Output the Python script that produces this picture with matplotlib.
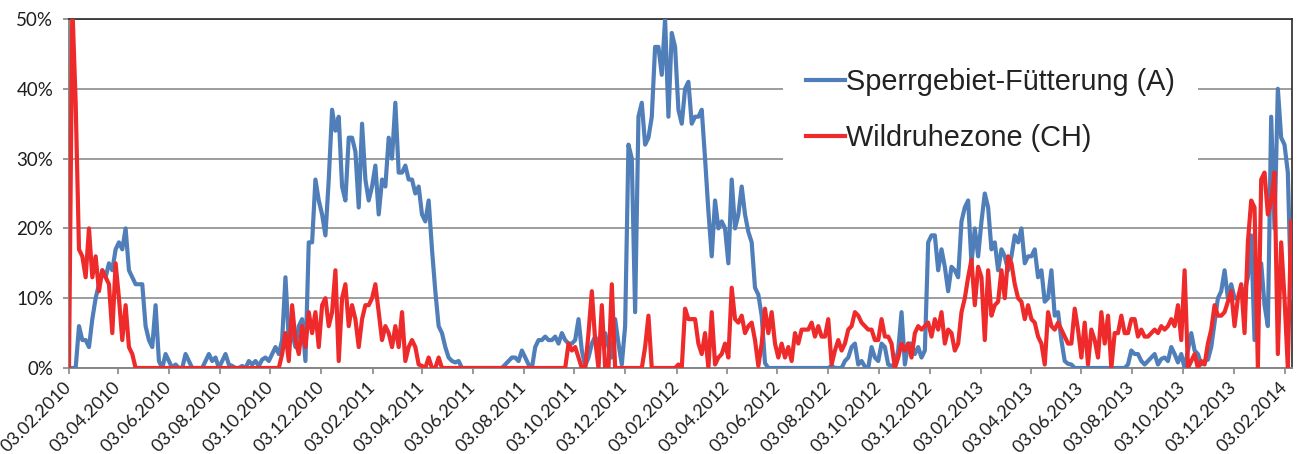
import numpy as np
import matplotlib
matplotlib.use("Agg")
import matplotlib.pyplot as plt
import matplotlib.dates as mdates
from matplotlib.ticker import FuncFormatter, MultipleLocator
from matplotlib.font_manager import FontProperties

# Readings every 4 days, starting 03.02.2010 (values in percent)
start_date = np.datetime64("2010-02-03")
end_date = np.datetime64("2014-02-11")
step_days = 4

series_labels = ["Sperrgebiet-Fütterung (A)", "Wildruhezone (CH)"]

sperrgebiet = [
    0, 0, 0, 6, 4, 4, 3, 7, 10, 12,
    14, 13, 15, 14, 17, 18, 17, 20, 14, 13,
    12, 12, 12, 6, 4, 3, 9, 1, 0, 2,
    1, 0, 0.5, 0, 0, 2, 1, 0, 0, 0,
    0, 1, 2, 1, 1.5, 0, 1, 2, 0.5, 0.3,
    0, 0, 0.3, 0, 1, 0.5, 1, 0.3, 1.2, 1.5,
    1, 2, 3, 2, 4, 13, 4, 5, 3, 6,
    7, 1, 18, 18, 27, 24, 22, 19, 27, 37,
    34, 36, 26, 24, 33, 33, 31, 23, 35, 27,
    24, 26, 29, 22, 27, 26, 33, 30, 38, 28,
    28, 29, 27, 27, 25, 26, 22, 21, 24, 17,
    11, 6, 5, 3, 1.5, 1, 0.8, 1, 0, 0,
    0, 0, 0, 0, 0, 0, 0, 0, 0, 0,
    0, 0.5, 1, 1.5, 1.5, 1, 2.5, 1.5, 0.5, 0,
    3, 4, 4, 4.5, 4, 4, 4.5, 3.5, 5, 4,
    3.5, 3.5, 4, 7, 2.5, 0.3, 1.5, 3.5, 4.5, 3.5,
    3.5, 5, 3, 1.5, 7, 3.5, 0.5, 6, 32, 30,
    8, 36, 38, 32, 33, 36, 46, 46, 42, 50,
    36, 48, 46, 37, 35, 40, 41, 35, 36, 36,
    37, 30, 22.5, 16, 24, 20, 21, 20, 15, 27,
    20, 22, 26, 22, 19.5, 18, 11.5, 10.5, 7.5, 0.7,
    0, 0, 0, 0, 0, 0, 0, 0, 0, 0,
    0, 0, 0, 0, 0, 0, 0, 0, 0, 0.3,
    0, 0, 0, 1, 1.5, 3, 3.5, 0.5, 1, 0.2,
    0, 3, 1.5, 1, 3.5, 3, 0.5, 0.3, 0.5, 2.5,
    8, 0.5, 3.5, 3.5, 2, 3, 1.5, 2.5, 18, 19,
    19, 14, 17, 14.5, 11, 14.5, 14, 13, 21, 23,
    24, 15, 20, 16, 21, 25, 23, 17, 18, 14,
    17, 16, 14, 16, 19, 18, 20, 15, 16, 16,
    17, 13, 14, 9.5, 10, 14, 7.5, 8, 4, 1,
    0.6, 0.5, 0, 0, 0, 0, 0, 0, 0, 0,
    0, 0, 0, 0, 0, 0, 0, 0, 0.5, 2.5,
    2, 2, 1, 0.5, 1, 1.5, 2, 0.5, 1.3, 1.5,
    1, 3, 2, 0.8, 2, 0, 2.5, 5, 2.5, 2,
    0.5, 1, 1.2, 3, 6.5, 10, 11, 14, 10, 12,
    10, 10, 11, 11, 13, 19, 4, 9, 15, 9,
    6, 36, 20, 40, 33, 32, 28, 10,
]

wildruhezone = [
    0, 52, 38, 17, 16, 13, 20, 13, 16, 11,
    14, 13, 12, 5, 15, 10, 4, 9, 3, 2,
    0, 0, 0, 0, 0, 0, 0, 0, 0, 0,
    0, 0, 0, 0, 0, 0, 0, 0, 0, 0,
    0, 0, 0, 0, 0, 0, 0, 0, 0, 0,
    0, 0, 0, 0, 0, 0, 0, 0, 0, 0,
    0, 0, 0, 0, 2, 5, 1, 9, 4, 2,
    6, 3, 8, 5, 8, 3, 9, 10, 6, 8,
    14, 1, 10, 12, 6, 9, 7, 3, 7, 9,
    9, 10, 12, 8, 4, 6, 5, 3, 6, 3,
    8, 1, 3, 4, 3, 0.5, 0.3, 0, 1.5, 0,
    0, 1.5, 0, 0, 0, 0, 0, 0, 0, 0,
    0, 0, 0, 0, 0, 0, 0, 0, 0, 0,
    0, 0, 0, 0, 0, 0, 0, 0, 0, 0,
    0, 0, 0, 0, 0, 0, 0, 0, 0, 0,
    3.5, 2.5, 3, 1.5, 0, 0, 5, 11, 4, 0,
    9, 0, 0, 12, 0, 0, 0, 0, 0, 0,
    0, 0, 0, 3, 7.5, 0, 0, 0, 0, 0,
    0, 0, 0, 0.5, 0, 8.5, 7, 7, 7, 3.5,
    2, 5, 0, 8, 0.5, 1.5, 2, 3.5, 1.5, 11.5,
    7, 6.5, 7.5, 5, 6, 6.5, 4, 0.3, 3.5, 8.5,
    5, 8, 3.5, 1.5, 3.5, 1.5, 3, 1, 5, 3.5,
    5.5, 5.5, 5.5, 6.5, 4.5, 6, 4.5, 4.5, 7, 0.5,
    2.5, 4, 2.5, 3.5, 5.5, 6, 8, 7.5, 6.5, 6,
    5.5, 5.5, 4, 4, 7, 4.5, 4.5, 3.5, 0, 1.5,
    3.5, 2.5, 3.5, 1.5, 5, 6, 5.5, 6, 6.5, 4.5,
    7, 5.5, 8, 3.5, 5.5, 5, 2.5, 3.5, 8, 10,
    13, 15.5, 9, 14.5, 13, 4, 14, 7.5, 9, 9.5,
    14, 10, 16, 15, 12, 10, 9.5, 7, 9, 7,
    6.5, 4.5, 3.5, 0.5, 8, 6, 5.5, 6.5, 5.5, 4.5,
    3.5, 3.5, 8.5, 5.5, 1.5, 6.5, 0.5, 5.5, 4, 1.5,
    8, 3.5, 7.5, 0, 5, 5, 7.5, 5, 5, 7,
    7, 4.5, 5.5, 4.5, 4.5, 5, 5.5, 5, 6, 5.5,
    6, 7, 6, 9, 4, 14, 0, 1, 2, 0,
    1, 0.5, 3.5, 5.5, 9, 7.5, 7.5, 8, 9.5, 11,
    6, 10, 12, 5, 18, 24, 23, 0, 27, 28,
    22, 24, 28, 2, 18, 10, 0, 21,
]

blue = "#4F7EB9"
red = "#EE2A2A"

W, H = 1298, 454
fig = plt.figure(figsize=(W / 100, H / 100), dpi=100)
left, right, top, bottom = 69, 1292, 19, 368
ax = fig.add_axes([left / W, 1 - bottom / H, (right - left) / W, (bottom - top) / H])

dates_a = start_date + np.arange(len(sperrgebiet)) * step_days
dates_b = start_date + np.arange(len(wildruhezone)) * step_days

ax.plot(dates_a, sperrgebiet, color=blue, lw=3.0, solid_joinstyle="round",
        label=series_labels[0], zorder=3)
ax.plot(dates_b, wildruhezone, color=red, lw=3.0, solid_joinstyle="round",
        label=series_labels[1], zorder=4)

ax.set_xlim(start_date, end_date)
ax.set_ylim(0, 50)

# y axis: percent scale with horizontal gridlines
ax.yaxis.set_major_locator(MultipleLocator(10))
ax.yaxis.set_major_formatter(FuncFormatter(lambda v, p: f"{v:.0f}%"))
ax.grid(axis="y", color="#959595", lw=1.3, zorder=1)
ax.set_axisbelow(True)

# x axis: every second month on the 3rd
ax.xaxis.set_major_locator(mdates.MonthLocator(bymonth=(2, 4, 6, 8, 10, 12), bymonthday=3))
ax.xaxis.set_major_formatter(mdates.DateFormatter("%d.%m.%Y"))

tick_font = "Lato"
ax.tick_params(axis="both", direction="out", length=4.3, width=1.2, color="#868686",
               labelsize=13, labelcolor="#1e1e1e")
ax.tick_params(axis="y", pad=7, labelsize=13.5)
ax.tick_params(axis="x", pad=8)
for lab in ax.get_yticklabels():
    lab.set_fontfamily(tick_font)
for lab in ax.get_xticklabels():
    lab.set_fontfamily(tick_font)
    lab.set_rotation(45)
    lab.set_ha("right")
    lab.set_va("center")
    lab.set_rotation_mode("anchor")

for side in ("left", "bottom"):
    ax.spines[side].set_color("#868686")
    ax.spines[side].set_linewidth(1.4)
for side in ("top", "right"):
    ax.spines[side].set_color("#2a2a2a")
    ax.spines[side].set_linewidth(1.2)

leg = ax.legend(loc="center", bbox_to_anchor=(0.7535, 0.739),
                prop=FontProperties(family="Liberation Sans", size=20.8),
                handlelength=1.35, handletextpad=0.05, labelspacing=0.95,
                borderpad=0.8, frameon=True, fancybox=False, framealpha=1,
                facecolor="white", edgecolor="none")
for t in leg.get_texts():
    t.set_color("#222222")
leg.set_zorder(5)

fig.savefig("out.png", dpi=100)
